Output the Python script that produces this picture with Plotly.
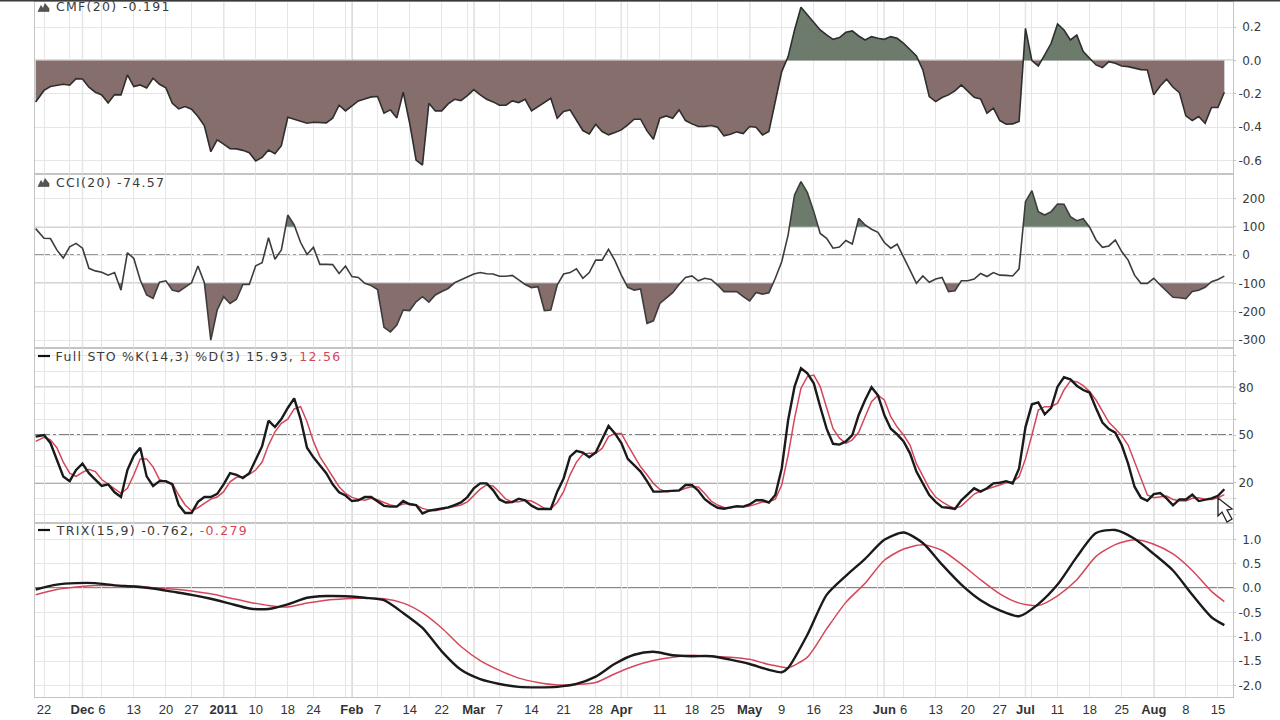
import pandas as pd
import plotly.graph_objects as go

HOLIDAYS = ["2010-11-25", "2010-12-24", "2011-01-17", "2011-02-21", "2011-04-22", "2011-05-30", "2011-07-04"]
TRADING_DAYS = [d for d in pd.bdate_range("2010-11-19", "2011-08-16") if d.strftime("%Y-%m-%d") not in HOLIDAYS]

CMF = [-0.25,-0.18,-0.157,-0.149,-0.143,-0.149,-0.109,-0.111,-0.161,-0.191,-0.207,-0.255,-0.205,-0.207,-0.087,-0.157,-0.147,-0.165,-0.107,-0.143,
-0.165,-0.257,-0.291,-0.277,-0.293,-0.337,-0.393,-0.548,-0.477,-0.503,-0.53,-0.531,-0.54,-0.554,-0.604,-0.582,-0.538,-0.56,-0.512,-0.341,
-0.353,-0.363,-0.377,-0.371,-0.375,-0.375,-0.347,-0.269,-0.303,-0.273,-0.243,-0.231,-0.219,-0.217,-0.317,-0.297,-0.345,-0.191,-0.377,-0.598,
-0.628,-0.257,-0.303,-0.303,-0.261,-0.233,-0.241,-0.211,-0.175,-0.207,-0.233,-0.249,-0.269,-0.269,-0.243,-0.253,-0.233,-0.303,-0.277,-0.253,
-0.227,-0.347,-0.307,-0.297,-0.357,-0.421,-0.441,-0.383,-0.427,-0.447,-0.433,-0.417,-0.387,-0.353,-0.353,-0.423,-0.473,-0.347,-0.333,-0.347,
-0.297,-0.361,-0.381,-0.397,-0.397,-0.391,-0.401,-0.453,-0.443,-0.429,-0.439,-0.397,-0.401,-0.447,-0.427,-0.257,-0.067,0.023,0.183,0.319,
0.273,0.223,0.183,0.153,0.127,0.137,0.169,0.177,0.147,0.123,0.143,0.133,0.127,0.143,0.133,0.103,0.067,0.027,-0.057,-0.217,
-0.247,-0.223,-0.207,-0.183,-0.147,-0.187,-0.221,-0.231,-0.317,-0.287,-0.361,-0.383,-0.381,-0.367,0.193,-0.001,-0.033,0.033,0.103,0.219,
0.183,0.123,0.153,0.053,0.013,-0.027,-0.043,-0.007,-0.017,-0.033,-0.037,-0.047,-0.055,-0.057,-0.207,-0.153,-0.113,-0.161,-0.193,-0.333,
-0.361,-0.337,-0.377,-0.283,-0.283,-0.191]

CCI = [93,59,58,18,-11,29,41,24,-47,-56,-61,-71,-62,-124,8,-12,-88,-141,-153,-96,
-91,-124,-129,-114,-98,-39,-98,-300,-194,-147,-171,-156,-104,-104,-38,-27,61,-15,18,141,
106,44,2,27,-33,-33,-34,-65,-39,-76,-79,-100,-108,-122,-255,-271,-247,-194,-196,-165,
-147,-166,-141,-129,-118,-98,-88,-79,-67,-62,-66,-67,-75,-75,-72,-88,-104,-115,-112,-196,
-194,-106,-67,-62,-49,-82,-62,-18,-18,20,-20,-71,-114,-124,-120,-241,-232,-171,-153,-133,
-104,-79,-74,-91,-82,-86,-106,-129,-129,-129,-147,-162,-132,-138,-133,-82,-24,71,212,259,
220,153,76,59,24,28,51,39,129,106,91,80,44,24,38,-6,-53,-100,-74,-96,
-85,-79,-129,-126,-91,-91,-85,-65,-76,-62,-71,-72,-74,-49,188,227,153,141,153,180,
179,135,121,128,98,53,27,32,53,12,-18,-71,-100,-100,-82,-106,-129,-149,-151,-154,
-129,-124,-114,-94,-86,-74.57]

STO_K = [49,50,45,34,24,21,28,32,26,22,18,19,14,11,28,37,42,24,18,21,
21,19,6,1,1,8,11,11,13,19,26,25,23,26,35,43,59,55,60,67,
73,60,42,36,31,26,19,14,12,8.5,9,11,11,8,5.5,5,5,8.5,6.5,6,
0.7,2.4,3,4,4.5,6,7.6,11,16.5,19.6,19.6,15.4,9.5,7.6,7.8,10,9,5.6,3.5,3.5,
3.5,14.4,22.7,36.4,40,39,36,39,47,55.7,51,45,35,31,27,21,14.4,14.4,14.6,15,
15.2,18.6,18.6,15,9.7,6.6,4.3,3.7,4.5,5.3,5,6.4,9,9,7.6,12.3,29,59.4,80.4,92,
88.8,82.5,67.8,54,44.5,44,46,50,62.6,72,80,75,62.6,54,50.4,46,38.5,27,19.6,12.3,
8,4.7,4.3,3.5,9,12.7,16.5,14.4,16.5,19.6,20,21,19.6,29,55,69.3,70.5,63,67,80.4,
86.3,85,81,78.3,76.6,66.8,57.8,53.8,51.5,43.7,32,17.5,10.6,8.7,12.9,13.5,10.2,5.8,9.5,9.5,
12.5,8.5,9.3,10.2,11.8,15.93]

STO_D = [46,48.5,47,42,33,26,24,26.5,28.4,27,22,19,16.5,13.3,16.5,25,35,35,30,22,
20.5,19.6,12.3,6,2.4,4.3,7,9.7,11,14.4,20.6,23.4,23.8,25.3,28,33,43.7,52,57.3,60,
66.4,67.8,58.4,46,36.4,30,24,17.5,13.3,10.8,9.7,9,10.2,9.3,7.6,6,5.3,6.6,7,6,
3.9,2.8,2.4,3.3,3.9,4.7,6,8,11.8,16,18.6,18,14,9.7,8,8,9,8.5,6.4,3.9,
3.5,7.6,14.4,25,33,38,38.5,38.5,41.6,49,51,51,43.7,36.4,30,25,19.6,15.8,14.4,14.8,
15,16.5,17.5,17.3,13.3,8.5,6,4.5,4.3,4.7,4.7,5.3,6.6,7.9,8,9.7,18.6,37.4,60.5,79.4,
86.7,87.7,80.4,67.8,54,48,44.8,47,51.7,61.5,71,75,72,61.5,55,50,43.7,32,24,16.5,
11,8,5.6,3.9,5.3,9,12.9,14.8,16,17,18.6,20.2,20.6,23.8,35,50,65.7,67.8,67.8,70,
78.3,84,83.5,81,77.3,72,64.7,58,54,49.6,43.7,33,21.7,12.3,10.6,11.2,11.6,9.5,8.7,8.5,
10.2,10.6,9.7,9.5,10.6,12.56]

TRIX_DAYS = [0,3,6,9,12,15,18,21,24,27,30,33,36,39,42,45,48,51,54,57,60,63,66,69,72,75,78,81,84,87,90,93,96,99,102,105,108,111,114,116,117,120,123,126,129,132,135,138,141,144,147,150,153,156,159,162,165,168,171,174,177,180,183,185]
TRIX = [-0.03,0.07,0.10,0.10,0.055,0.03,-0.01,-0.075,-0.14,-0.22,-0.32,-0.42,-0.43,-0.335,-0.20,-0.165,-0.17,-0.20,-0.25,-0.515,-0.82,-1.30,-1.68,-1.87,-1.97,-2.03,-2.04,-2.03,-1.97,-1.82,-1.555,-1.37,-1.31,-1.38,-1.40,-1.40,-1.47,-1.56,-1.68,-1.73,-1.64,-0.96,-0.14,0.25,0.60,0.99,1.14,0.925,0.48,0.07,-0.25,-0.46,-0.58,-0.33,0.07,0.64,1.13,1.19,1.01,0.70,0.36,-0.14,-0.60,-0.762]
TRIX_SIGNAL = [-0.14,-0.03,0.02,0.05,0.05,0.04,0.007,-0.02,-0.06,-0.12,-0.205,-0.29,-0.36,-0.39,-0.31,-0.25,-0.22,-0.205,-0.22,-0.31,-0.51,-0.82,-1.20,-1.49,-1.69,-1.85,-1.94,-1.99,-1.98,-1.94,-1.76,-1.60,-1.49,-1.42,-1.38,-1.40,-1.42,-1.465,-1.57,-1.62,-1.64,-1.42,-0.84,-0.295,0.10,0.57,0.80,0.89,0.77,0.49,0.17,-0.12,-0.31,-0.36,-0.16,0.17,0.65,0.89,0.99,0.90,0.70,0.36,-0.07,-0.279]

TICK_DATES = ["2010-11-22","2010-11-29","2010-12-01","2010-12-06","2010-12-13","2010-12-20","2010-12-27","2011-01-03","2011-01-10","2011-01-18","2011-01-24","2011-01-31","2011-02-01","2011-02-07","2011-02-14","2011-02-22","2011-02-28","2011-03-01","2011-03-07","2011-03-14","2011-03-21","2011-03-28","2011-04-01","2011-04-04","2011-04-11","2011-04-18","2011-04-25","2011-05-02","2011-05-09","2011-05-16","2011-05-23","2011-05-31","2011-06-01","2011-06-06","2011-06-13","2011-06-20","2011-06-27","2011-07-01","2011-07-05","2011-07-11","2011-07-18","2011-07-25","2011-08-01","2011-08-08","2011-08-15"]
TICK_LABELS = ["22","","<b>Dec</b>","6","13","20","27","<b>2011</b>","10","18","24","","<b>Feb</b>","7","14","22","","<b>Mar</b>","7","14","21","28","<b>Apr</b>","","11","18","25","<b>May</b>","9","16","23","","<b>Jun</b>","6","13","20","27","<b>Jul</b>","","11","18","25","<b>Aug</b>","8","15"]
MONTH_STARTS = ["2010-12-01","2011-01-03","2011-02-01","2011-03-01","2011-04-01","2011-05-02","2011-06-01","2011-07-01","2011-08-01"]

CMF_TICKS = [0.2,0,-0.2,-0.4,-0.6]
CCI_TICKS = [200,100,0,-100,-200,-300]
STO_TICKS = [100,90,80,70,60,50,40,30,20,10,0]
STO_LABELS = {80:"80",50:"50",20:"20"}
TRIX_TICKS = [1,0.5,0,-0.5,-1,-1.5,-2]

W, H = 1280, 720
L, R = 35, 1233
TEXT = "#3a3a3a"; RED = "#d4475a"; GRID = "#e6e6e6"; MONTH = "#bdbdbd"; BORDER = "#c4c4c4"
NEG = "rgba(128,104,102,0.96)"; POS = "rgba(102,118,102,0.96)"; LINE = "#2e2e2e"
FONT = "DejaVu Sans"

def px(x): return (x - L) / (R - L)
def py(y): return 1 - y / H

index = {d.strftime("%Y-%m-%d"): i for i, d in enumerate(TRADING_DAYS)}
FIRST_X = -0.3  # first sample sits on the left frame in the source chart
days = [FIRST_X] + list(range(1, len(TRADING_DAYS)))
trix_x = [FIRST_X] + TRIX_DAYS[1:]

def clipped(values, thr, above):
    xs, ys = [days[0]], [thr]
    keep = (lambda v: v > thr) if above else (lambda v: v < thr)
    for i, v in enumerate(values):
        if i:
            p = values[i - 1]
            if keep(p) != keep(v) and p != v:
                xs.append(days[i - 1] + (days[i] - days[i - 1]) * (thr - p) / (v - p)); ys.append(thr)
        xs.append(days[i]); ys.append(v if keep(v) else thr)
    xs.append(days[-1]); ys.append(thr)
    return xs, ys

fig = go.Figure()

def area(values, thr, above, color, ax):
    xs, ys = clipped(values, thr, above)
    fig.add_trace(go.Scatter(x=xs, y=ys, mode="lines", fill="toself", fillcolor=color,
                             line=dict(width=0), xaxis="x" + ax, yaxis="y" + ax, hoverinfo="skip"))

area(CMF, 0, False, NEG, "")
area(CMF, 0, True, POS, "")
fig.add_trace(go.Scatter(x=days, y=CMF, mode="lines", line=dict(color=LINE, width=1.6), xaxis="x", yaxis="y"))
area(CCI, -100, False, NEG, "2")
area(CCI, 100, True, POS, "2")
fig.add_trace(go.Scatter(x=days, y=CCI, mode="lines", line=dict(color="#3c3c3c", width=1.6), xaxis="x2", yaxis="y2"))
fig.add_trace(go.Scatter(x=days, y=STO_D, mode="lines", line=dict(color=RED, width=1.5), xaxis="x3", yaxis="y3"))
fig.add_trace(go.Scatter(x=days, y=STO_K, mode="lines", line=dict(color="#1a1a1a", width=2.4), xaxis="x3", yaxis="y3"))
fig.add_trace(go.Scatter(x=trix_x, y=TRIX_SIGNAL, mode="lines", line=dict(color=RED, width=1.5, shape="spline", smoothing=0.7), xaxis="x4", yaxis="y4"))
fig.add_trace(go.Scatter(x=trix_x, y=TRIX, mode="lines", line=dict(color="#1a1a1a", width=2.4, shape="spline", smoothing=0.7), xaxis="x4", yaxis="y4"))

tickvals = [index[d] for d in TICK_DATES]
xrange_ = [-0.405, 186.35]

def xax(bottom, labels):
    return dict(range=xrange_, tickmode="array", tickvals=tickvals, ticktext=TICK_LABELS if labels else [""] * len(tickvals),
                showgrid=True, gridcolor=GRID, gridwidth=1, zeroline=False, showline=True, linecolor=BORDER, linewidth=1,
                mirror=True, ticks="", anchor=bottom,
                tickfont=dict(family="Liberation Sans", size=13, color="#333333"), tickangle=0, fixedrange=True)

def yax(top, bottom, rng, vals, texts, anchor):
    return dict(domain=[py(bottom), py(top)], range=rng, side="right", tickmode="array", tickvals=vals, ticktext=texts,
                showgrid=True, gridcolor=GRID, gridwidth=1, zeroline=False, showline=True, linecolor=BORDER, linewidth=1,
                mirror=True, ticks="outside", ticklen=2, tickcolor=BORDER, anchor=anchor,
                tickfont=dict(family=FONT, size=12, color=TEXT), fixedrange=True)

NB = "\u00a0"
def lab(v, fmt):
    s = fmt.format(v)
    return s if s.startswith("-") else NB + s

shapes = [dict(type="line", xref="paper", yref="paper", x0=px(0), x1=px(W), y0=py(0.5), y1=py(0.5),
               line=dict(color="#3a3a3a", width=2), layer="above")]
for d in MONTH_STARTS:
    shapes.append(dict(type="line", xref="x4", yref="paper", x0=index[d], x1=index[d], y0=py(697), y1=py(1),
                       line=dict(color=MONTH, width=1.2), layer="below"))
def hline(yref, v, dash="solid", color="#5e5e5e", width=1.3):
    shapes.append(dict(type="line", xref="paper", yref=yref, x0=0, x1=1, y0=v, y1=v, line=dict(color=color, width=width, dash=dash), layer="below"))
DD = "15px,3px,3px,3px"
hline("y", 0, color="#777777")
hline("y2", 100); hline("y2", -100); hline("y2", 0, DD, "#777777")
hline("y3", 80); hline("y3", 20); hline("y3", 50, DD, "#555555")
hline("y4", 0)

# legend glyphs and pointer
def poly(points, fill, line, width=1):
    path = "M" + " L".join(f"{px(a):.5f},{py(b):.5f}" for a, b in points) + " Z"
    shapes.append(dict(type="path", xref="paper", yref="paper", path=path, fillcolor=fill, line=dict(color=line, width=width), layer="above"))
for top in (11.5, 186.5):
    poly([(38, top), (41, top - 6), (43, top - 3), (45, top - 8), (49, top - 3), (49, top)], "#555555", "#333333", 0.5)
for y in (356, 530):
    shapes.append(dict(type="line", xref="paper", yref="paper", x0=px(38), x1=px(50), y0=py(y), y1=py(y), line=dict(color="#111111", width=2.2), layer="above"))
poly([(1218, 498), (1218, 516), (1222, 512), (1227, 522), (1232, 519), (1227, 510), (1232, 509)], "#ffffff", "#222222", 1.3)

SPACING = 1.3
def note(x, y, text, plain, color=TEXT):
    return dict(x=px(x + SPACING * len(plain) / 2), y=py(y), xref="paper", yref="paper", xanchor="left", yanchor="middle",
                text=text, showarrow=False, font=dict(family=FONT, size=12.5, color=color))
anns = [note(54, 7, "CMF(20) -0.191", "CMF(20) -0.191"), note(54, 182, "CCI(20) -74.57", "CCI(20) -74.57"),
        note(54, 356, f'Full STO %K(14,3) %D(3) 15.93, <span style="color:{RED}">12.56</span>', "Full STO %K(14,3) %D(3) 15.93, 12.56"),
        note(54, 530, f'TRIX(15,9) -0.762, <span style="color:{RED}">-0.279</span>', "TRIX(15,9) -0.762, -0.279")]

fig.update_layout(
    width=W, height=H, autosize=False, showlegend=False, paper_bgcolor="white", plot_bgcolor="white",
    margin=dict(l=L, r=W - R, t=0, b=0), shapes=shapes, annotations=anns, hovermode=False,
    xaxis=xax("y", False), xaxis2=xax("y2", False), xaxis3=xax("y3", False), xaxis4=xax("y4", True),
    yaxis=yax(2, 173.5, [-0.679, 0.351], CMF_TICKS, [lab(v, "{:.1f}") for v in CMF_TICKS], "x"),
    yaxis2=yax(174, 348, [-328, 285.7], CCI_TICKS, [str(v) if v < 0 else NB + str(v) for v in CCI_TICKS], "x2"),
    yaxis3=yax(348, 523, [-5.3, 104.7], STO_TICKS, [STO_LABELS.get(v, "") for v in STO_TICKS], "x3"),
    yaxis4=yax(523, 697, [-2.238, 1.335], TRIX_TICKS, [lab(v, "{:.1f}") for v in TRIX_TICKS], "x4"),
)

post = """document.body.style.margin='0';document.body.style.overflow='hidden';
document.querySelectorAll('.annotation-text').forEach(function(t){t.style.letterSpacing='1.3px';});"""
fig.write_html("out.html", post_script=post, config={"displayModeBar": False})
